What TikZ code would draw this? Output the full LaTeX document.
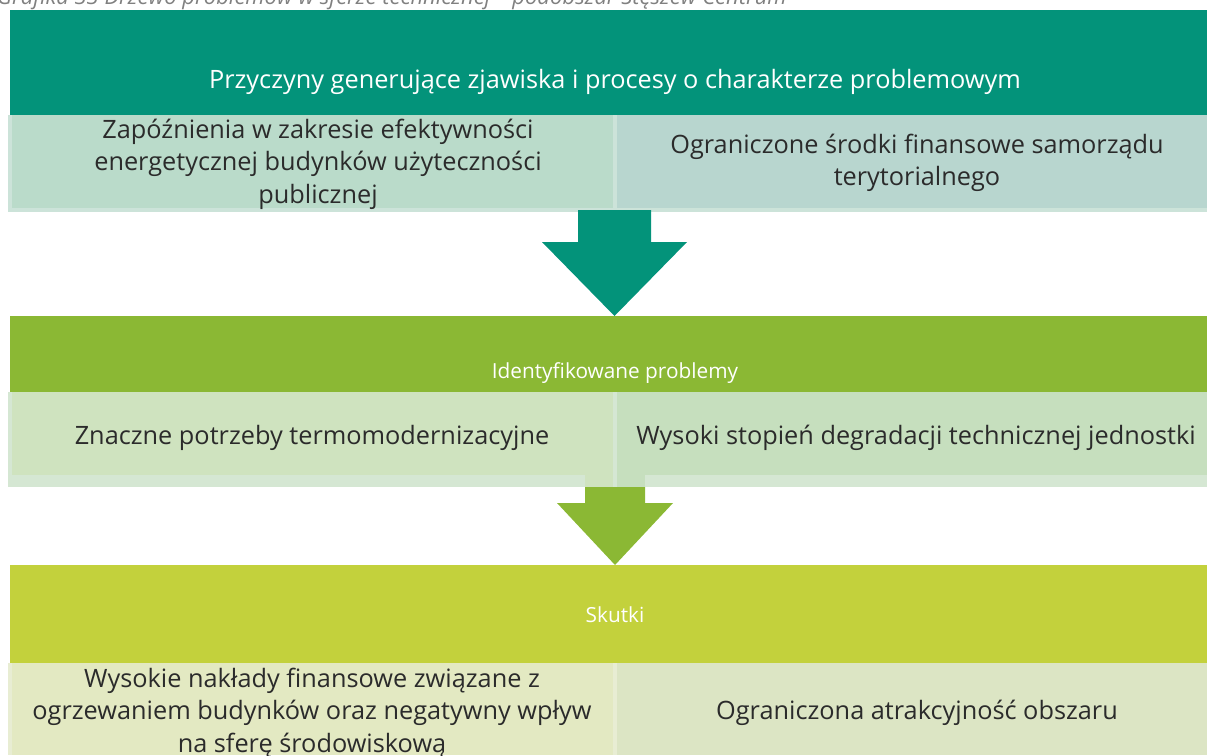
\documentclass[tikz,border=0pt]{standalone}
\usepackage{fontspec}
\setmainfont{Open Sans}
\definecolor{capgray}{HTML}{808080}
\definecolor{cA}{HTML}{03937A}
\definecolor{cAl}{HTML}{BADBCA}
\definecolor{cAr}{HTML}{B8D6CF}
\definecolor{cAf}{HTML}{CCE3D9}
\definecolor{cB}{HTML}{8BB834}
\definecolor{cBl}{HTML}{CFE3BF}
\definecolor{cBr}{HTML}{C6DFBE}
\definecolor{cBf}{HTML}{D5E7D3}
\definecolor{cC}{HTML}{C3D13C}
\definecolor{cCl}{HTML}{E3E9C2}
\definecolor{cCr}{HTML}{DCE5C4}
\definecolor{cCf}{HTML}{E8EDD3}
\definecolor{txt}{HTML}{2B2B2B}
\begin{document}
\begin{tikzpicture}[x=1pt,y=-1pt,
  blk/.style={anchor=north west, inner sep=0pt, outer sep=0pt, rectangle, draw=none},
  head/.style={text=white, inner sep=0pt, font=\fontsize{25.3}{30}\selectfont},
  subhead/.style={text=white, inner sep=0pt, font=\fontsize{20.8}{25}\selectfont},
  cell/.style={text=txt, inner sep=0pt, align=center, font=\fontsize{25.3}{32.5}\selectfont}]
\useasboundingbox (0,0) rectangle (1207,755);
\clip (0,0) rectangle (1207,755);
% caption (cut at top)
\node[anchor=base west, inner sep=0pt, text=capgray, font=\fontsize{22}{26}\selectfont\itshape] (cap) at (-3,4) {Grafika 33 Drzewo problemów w sferze technicznej – podobszar Stęszew Centrum};
% band 1
\node[blk, fill=cA, minimum width=1197pt, minimum height=105pt] (b1) at (10,10) {};
\node[head] (t1) at (615,82) {Przyczyny generujące zjawiska i procesy o charakterze problemowym};
% row 1
\node[blk, fill=cAf, minimum width=1199pt, minimum height=97pt] (f1) at (8,115) {};
\node[blk, fill=cAl, minimum width=601pt, minimum height=93pt] (l1) at (12,115) {};
\node[blk, fill=cAr, minimum width=590pt, minimum height=93pt] (r1) at (617,115) {};
\node[cell] (tl1) at (318,164) {Zapóźnienia w zakresie efektywności\\energetycznej budynków użyteczności\\publicznej};
\node[cell] (tr1) at (917,163) {Ograniczone środki finansowe samorządu\\terytorialnego};
% arrow 1
\fill[cA] (578,210) -- (651,210) -- (651,242) -- (687,242) -- (614.5,316) -- (542,242) -- (578,242) -- cycle;
% band 2
\node[blk, fill=cB, minimum width=1197pt, minimum height=76pt] (b2) at (10,316) {};
\node[subhead] (t2) at (615,373) {Identyfikowane problemy};
% row 2
\node[blk, fill=cBf, minimum width=1199pt, minimum height=95pt] (f2) at (8,392) {};
\node[blk, fill=cBl, minimum width=601pt, minimum height=83pt] (l2) at (12,392) {};
\node[blk, fill=cBr, minimum width=590pt, minimum height=83pt] (r2) at (617,392) {};
\fill[cBl] (585,475) rectangle (613,487);
\fill[cBr] (617,475) rectangle (645,487);
\node[cell] (tl2) at (312,438) {Znaczne potrzeby termomodernizacyjne};
\node[cell] (tr2) at (916,438) {Wysoki stopień degradacji technicznej jednostki};
% arrow 2
\fill[cB] (585,487) -- (645,487) -- (645,503) -- (673,503) -- (615,565) -- (557,503) -- (585,503) -- cycle;
% band 3
\node[blk, fill=cC, minimum width=1197pt, minimum height=98pt] (b3) at (10,565) {};
\node[subhead] (t3) at (615,615) {Skutki};
% row 3
\node[blk, fill=cCf, minimum width=1199pt, minimum height=92pt] (f3) at (8,663) {};
\node[blk, fill=cCl, minimum width=601pt, minimum height=92pt] (l3) at (12,663) {};
\node[blk, fill=cCr, minimum width=590pt, minimum height=92pt] (r3) at (617,663) {};
\node[cell] (tl3) at (312,713) {Wysokie nakłady finansowe związane z\\ogrzewaniem budynków oraz negatywny wpływ\\na sferę środowiskową};
\node[cell] (tr3) at (917,713) {Ograniczona atrakcyjność obszaru};
\end{tikzpicture}
\end{document}
